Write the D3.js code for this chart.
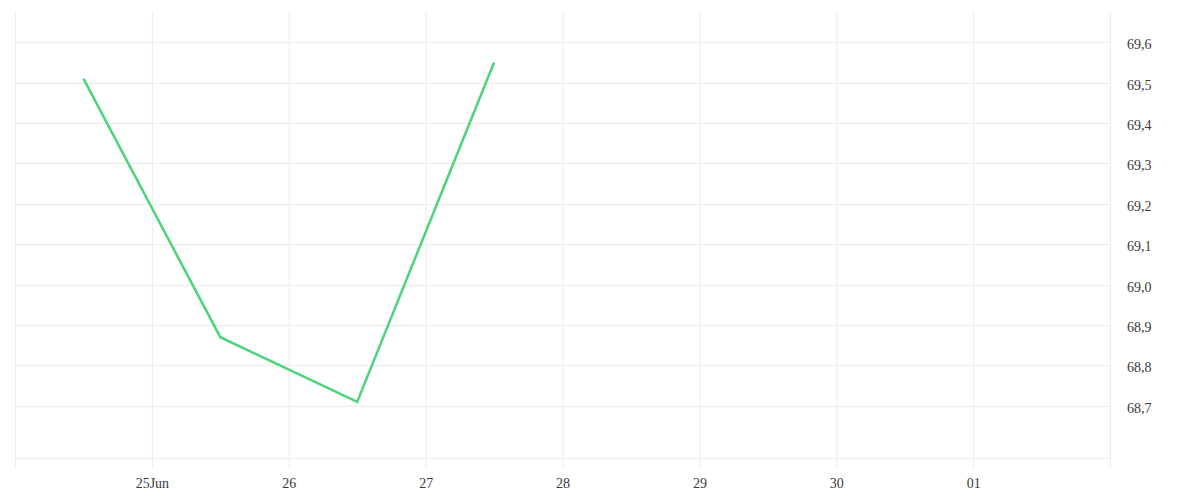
<!DOCTYPE html>
<html>
<head>
    <meta charset="utf-8">
    <title>Line</title>
    <script src="https://d3js.org/d3.v7.min.js"></script>
    <style>
        body { margin: 0; background: #fff; }
    </style>
</head>
<body>
<div id="chart"></div>
<script type="text/javascript">

    // dados
    let dates = ["2024-06-24T12:00", "2024-06-25T12:00", "2024-06-26T12:00", "2024-06-27T12:00"];
    let values = [69.51, 68.87, 68.71, 69.55];

    let xTicks = ["2024-06-24", "2024-06-25", "2024-06-26", "2024-06-27", "2024-06-28",
                  "2024-06-29", "2024-06-30", "2024-07-01", "2024-07-02"];
    let xTickLabels = ["", "25Jun", "26", "27", "28", "29", "30", "01", ""];
    let yTicks = [68.7, 68.8, 68.9, 69.0, 69.1, 69.2, 69.3, 69.4, 69.5, 69.6];
    let yTickLabels = ["68,7", "68,8", "68,9", "69,0", "69,1", "69,2", "69,3", "69,4", "69,5", "69,6"];
    let xDomain = ["2024-06-24", "2024-07-02"];
    let yDomain = [68.571, 69.675];

    let margin = {top: 12, right: 90, bottom: 42, left: 15};
    let w = 1200 - margin.left - margin.right;
    let h = 500 - margin.top - margin.bottom;

    let parse = d3.isoParse;

    let svg = d3.select("#chart")
            .append("svg")
                .attr("width", w + margin.left + margin.right)
                .attr("height", h + margin.top + margin.bottom)
            .append("g")
                .attr("transform", "translate(" + margin.left + "," + margin.top + ")");

    let xScale = d3.scaleTime()
                .domain(xDomain.map(parse))
                .range([0, w]);

    let yScale = d3.scaleLinear()
                .domain(yDomain)
                .range([h, 0]);

    // grade horizontal
    svg.append("g")
        .selectAll("line")
        .data(yTicks)
        .enter()
        .append("line")
        .attr("x1", 0)
        .attr("x2", w)
        .attr("y1", d => Math.round(yScale(d)) + 0.5)
        .attr("y2", d => Math.round(yScale(d)) + 0.5)
        .attr("stroke", "#ececec")
        .attr("stroke-width", 1);

    // eixo x (grade vertical + rótulos)
    let xAxis = d3.axisBottom(xScale)
                .tickValues(xTicks.map(parse))
                .tickSize(h + 10)
                .tickPadding(10)
                .tickFormat((d, i) => xTickLabels[i]);

    let gx = svg.append("g").call(xAxis);
    gx.select(".domain").remove();
    gx.selectAll(".tick line").attr("stroke", "#ececec");
    gx.selectAll(".tick text")
        .attr("font-family", "'Liberation Serif', serif")
        .attr("font-size", "14px")
        .attr("fill", "#3a3a3a");

    // linha base
    svg.append("line")
        .attr("x1", 0)
        .attr("x2", w)
        .attr("y1", h + 0.5)
        .attr("y2", h + 0.5)
        .attr("stroke", "#ececec");

    // eixo y à direita
    let yAxis = d3.axisRight(yScale)
                .tickValues(yTicks)
                .tickSize(0)
                .tickPadding(17)
                .tickFormat((d, i) => yTickLabels[i]);

    let gy = svg.append("g")
        .attr("transform", "translate(" + w + ",0)")
        .call(yAxis);
    gy.select(".domain").remove();
    gy.selectAll(".tick text")
        .attr("font-family", "'Liberation Serif', serif")
        .attr("font-size", "14px")
        .attr("fill", "#3a3a3a")
        .attr("dy", "0.45em");

    // série
    let data = dates.map((d, i) => [parse(d), values[i]]);

    let line = d3.line()
        .x(d => xScale(d[0]))
        .y(d => yScale(d[1]));

    svg.append("path")
        .datum(data)
        .attr("d", line)
        .attr("fill", "none")
        .attr("stroke", "#4cd37b")
        .attr("stroke-width", 2.5);

</script>
</body>
</html>
